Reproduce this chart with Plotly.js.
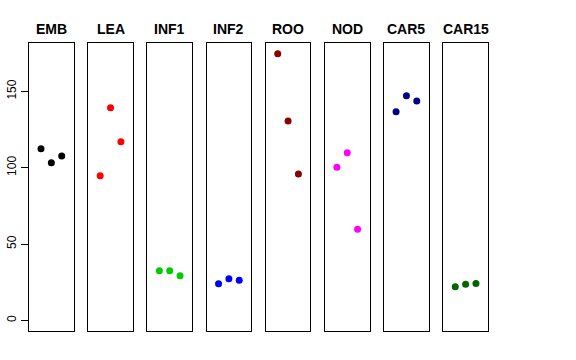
<!DOCTYPE html>
<html>
<head>
<meta charset="utf-8">
<script src="https://cdn.plot.ly/plotly-3.0.1.min.js"></script>
<style>html,body{margin:0;padding:0;background:#fff;}</style>
</head>
<body>
<div id="chart" style="width:576px;height:360px;"></div>
<script>
// Data
const groups = ["EMB", "LEA", "INF1", "INF2", "ROO", "NOD", "CAR5", "CAR15"];
const replicate = [1, 2, 3];
const EMB = [112.4, 103.3, 107.7];
const LEA = [94.8, 139.3, 117.0];
const INF1 = [32.5, 32.5, 29.2];
const INF2 = [24.0, 27.3, 26.2];
const ROO = [174.7, 130.6, 95.9];
const NOD = [100.3, 109.8, 59.6];
const CAR5 = [136.7, 147.2, 143.7];
const CAR15 = [22.0, 23.6, 24.2];
const seriesValues = [EMB, LEA, INF1, INF2, ROO, NOD, CAR5, CAR15];
const colors = ["#000000", "#FF0000", "#00CD00", "#0000FF", "#8B0000", "#FF00FF", "#00008B", "#006400"];
const yTicks = [0, 50, 100, 150];

const W = 576, H = 360;
const left0 = 29, pitch = 59.18, pw = 44.7;
const plotTop = 43, plotBottom = 331;
const traces = [];
const layout = {
  width: W, height: H,
  margin: {l: 0, r: 0, t: 0, b: 0},
  paper_bgcolor: "#fff", plot_bgcolor: "#fff",
  showlegend: false,
  font: {family: "Liberation Sans, Arial, sans-serif", color: "#000"},
  annotations: []
};
groups.forEach((g, i) => {
  const sfx = i === 0 ? "" : String(i + 1);
  const x0 = left0 + i * pitch;
  traces.push({
    type: "scatter", mode: "markers",
    x: replicate, y: seriesValues[i],
    xaxis: "x" + sfx, yaxis: "y" + sfx,
    marker: {color: colors[i], size: 7},
    hoverinfo: "skip"
  });
  layout["xaxis" + sfx] = {
    domain: [x0 / W, (x0 + pw) / W],
    range: [-0.16, 4.16],
    showgrid: false, zeroline: false, showticklabels: false, ticks: "",
    showline: true, mirror: true, linecolor: "#000", linewidth: 1,
    anchor: "y" + sfx, fixedrange: true
  };
  const ya = {
    domain: [1 - plotBottom / H, 1 - plotTop / H],
    range: [-7, 181.7],
    showgrid: false, zeroline: false,
    showline: true, mirror: true, linecolor: "#000", linewidth: 1,
    anchor: "x" + sfx, fixedrange: true
  };
  if (i === 0) {
    Object.assign(ya, {
      tickmode: "array", tickvals: yTicks, ticktext: yTicks.map(String),
      ticks: "outside", ticklen: 7, tickcolor: "#000", tickwidth: 1,
      tickangle: -90, tickfont: {size: 12, color: "#000"}, showticklabels: true
    });
  } else {
    Object.assign(ya, {showticklabels: false, ticks: ""});
  }
  layout["yaxis" + sfx] = ya;
  layout.annotations.push({
    text: "<b>" + g + "</b>",
    xref: "paper", yref: "paper",
    x: (x0 + pw / 2) / W, y: 1 - 29.3 / H,
    xanchor: "center", yanchor: "middle",
    showarrow: false,
    font: {size: 14, color: "#000"}
  });
});
Plotly.newPlot("chart", traces, layout, {displayModeBar: false, staticPlot: true});
</script>
</body>
</html>
